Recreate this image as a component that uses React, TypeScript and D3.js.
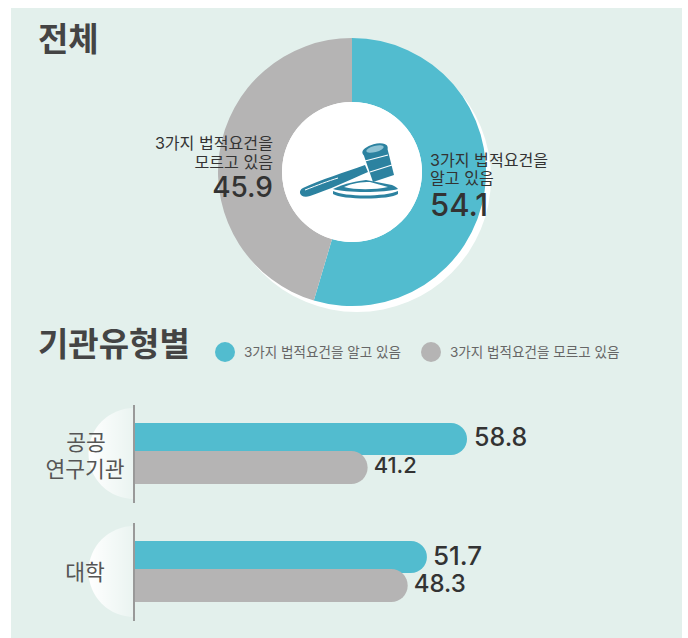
import React from 'react';
import * as d3 from 'd3';

// values
const overallLabels = ['3가지 법적요건을 알고 있음', '3가지 법적요건을 모르고 있음'];
const overallValues = [54.1, 45.9];
// the slices in the picture are drawn a little off the printed numbers
const overallSlices = [54.6, 45.4];
const groups = ['공공 연구기관', '대학'];
const knowValues = [58.8, 51.7];
const dontKnowValues = [41.2, 48.3];

const TEAL = '#52bccf';
const GREY = '#b5b4b4';
const BG = '#e3f0ec';
const INK = '#333333';
const GAVEL = '#2c82a0';
const FONT = 'Inter, "Noto Sans CJK KR", sans-serif';

const x = d3.scaleLinear().domain([0, 58.8]).range([135, 467]);
const groupY = d3.scaleOrdinal<string, number>().domain(groups).range([423, 541]);

// one row of the horizontal bars, round on the right end
const barPath = (x0: number, x1: number, y0: number, y1: number) => {
  const r = (y1 - y0) / 2;
  return `M${x0},${y0}H${x1 - r}A${r},${r} 0 0 1 ${x1 - r},${y1}H${x0}Z`;
};

const Gavel = () => (
  <g>
    {/* base */}
    <path
      d="M333,191 C345,197 385,197 398,191 L398,194 C390,200 342,200 333,194 Z"
      fill={GAVEL}
    />
    <path d="M333,189 C345,183 358,181 366,180 L392,185 C395,186 397,188 398,189 C385,193 345,193 333,189 Z" fill={GAVEL} />
    <path d="M344,187 C352,183 362,182 370,182 L388,187 C375,190 355,190 344,187 Z" fill="#ffffff" />
    {/* handle */}
    <path
      d="M303,188 C320,180 345,172 365,165 L368,172 C350,180 328,190 310,196 C300,199 297,191 303,188 Z"
      fill={GAVEL}
    />
    <path d="M305,190 C318,185 328,181 338,178" stroke="#ffffff" strokeWidth={1} fill="none" />
    {/* head */}
    <path d="M363,153 L387,147 L394,175 L373,182 Z" fill={GAVEL} />
    <ellipse cx="375" cy="150" rx="13" ry="6" transform="rotate(-15 375 150)" fill={GAVEL} />
    <ellipse cx="375" cy="149" rx="9" ry="3" transform="rotate(-15 375 149)" fill="#8fc3d4" />
    <path d="M365,161 L388,155" stroke="#ffffff" strokeWidth={1.2} fill="none" />
    <path d="M370,172 L392,165" stroke="#ffffff" strokeWidth={1.2} fill="none" />
  </g>
);

const App = () => {
  const pie = d3.pie<number>().sort(null)(overallSlices);
  const arc = d3.arc<d3.PieArcDatum<number>>().innerRadius(70).outerRadius(134);
  const colors = [TEAL, GREY];

  return (
    <svg
      width={688}
      height={638}
      style={{ position: 'absolute', left: 0, top: 0, fontFamily: FONT }}
    >
      <defs>
        <linearGradient id="fade" x1="0" x2="1" y1="0" y2="0">
          <stop offset="0" stopColor="#ffffff" />
          <stop offset="1" stopColor="#ffffff" stopOpacity="0.25" />
        </linearGradient>
      </defs>
      <rect width={688} height={638} fill="#ffffff" />
      <rect x={11} y={8} width={671} height={630} fill={BG} />

      <text x={38} y={51} fontSize={33} fontWeight={700} fill="#444444">전체</text>

      <circle cx={357} cy={178} r={134} fill="#ffffff" />
      <g transform="translate(352,172)">
        {pie.map((d, i) => (
          <path key={i} d={arc(d) as string} fill={colors[i]} />
        ))}
        <circle r={70} fill="#ffffff" />
      </g>
      <Gavel />

      <text fill={INK} textAnchor="end" fontSize={16.1}>
        <tspan x={273} y={149}>3가지 법적요건을</tspan>
        <tspan x={273} y={168}>모르고 있음</tspan>
        <tspan x={273} y={197} fontSize={28} fontWeight={500}>{overallValues[1]}</tspan>
      </text>
      <text fill={INK} fontSize={16.1}>
        <tspan x={430} y={166}>3가지 법적요건을</tspan>
        <tspan x={430} y={184}>알고 있음</tspan>
        <tspan x={430} y={216} fontSize={31} fontWeight={500}>{overallValues[0]}</tspan>
      </text>

      <text x={38} y={356} fontSize={33} fontWeight={700} fill="#444444">기관유형별</text>

      <circle cx={225} cy={352} r={10} fill={TEAL} />
      <text x={244} y={357} fontSize={13.55} fill="#666666">{overallLabels[0]}</text>
      <circle cx={431} cy={352} r={10} fill={GREY} />
      <text x={450} y={357} fontSize={13.55} fill="#666666">{overallLabels[1]}</text>

      {groups.map((g, i) => {
        const y0 = groupY(g);
        const y1 = y0 + 32;
        const ySplit = y0 + 28;
        const y2 = y0 + 61;
        return (
          <g key={g}>
            <path d={`M134,${y0 - 15}A45.5,45.5 0 0 0 134,${y0 + 76}Z`} fill="url(#fade)" />
            <path d={barPath(x(0), x(knowValues[i]), y0, y1)} fill={TEAL} />
            <path d={barPath(x(0), x(dontKnowValues[i]), ySplit, y2)} fill={GREY} />
            <line x1={134} x2={134} y1={y0 - 18} y2={y0 + 80} stroke="#999999" strokeWidth={2} />
          </g>
        );
      })}

      <g fill={INK} fontWeight={500}>
        <text x={x(knowValues[0]) + 7} y={446} fontSize={25}>{knowValues[0]}</text>
        <text x={x(dontKnowValues[0]) + 6} y={473} fontSize={22}>{dontKnowValues[0]}</text>
        <text x={x(knowValues[1]) + 6} y={565} fontSize={26}>{knowValues[1]}</text>
        <text x={x(dontKnowValues[1]) + 6} y={592} fontSize={24}>{dontKnowValues[1]}</text>
      </g>

      <g fill="#555555" textAnchor="middle">
        <text fontSize={21.5}>
          <tspan x={86} y={450}>공공</tspan>
          <tspan x={85} y={477}>연구기관</tspan>
        </text>
        <text x={85} y={580} fontSize={21.5}>대학</text>
      </g>
    </svg>
  );
};

export default App;
